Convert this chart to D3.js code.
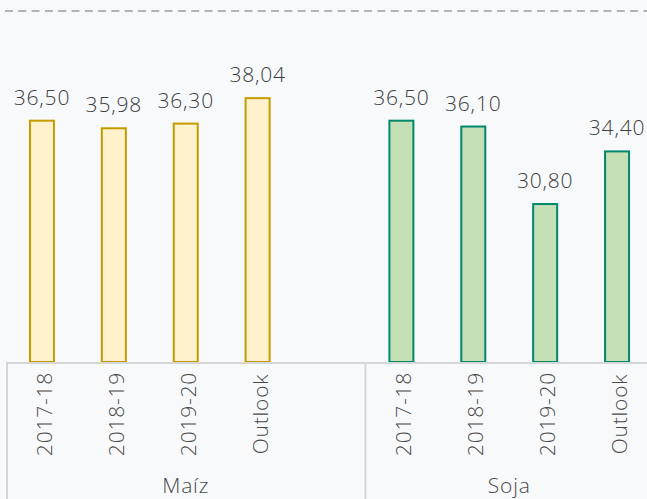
<!DOCTYPE html>
<html>
<head>
<meta charset="utf-8">
<script src="https://cdn.jsdelivr.net/npm/d3@7"></script>
<style>
  html, body { margin: 0; padding: 0; background: #f8f9fb; }
  svg { display: block; font-family: "Open Sans", sans-serif; letter-spacing: 0.8px; }
</style>
</head>
<body>
<svg id="chart" width="647" height="499"></svg>
<script>
// Values
const groups     = ["Maíz", "Soja"];
const seasons    = ["2017-18", "2018-19", "2019-20", "Outlook"];
const maizValues = [36.50, 35.98, 36.30, 38.04];
const sojaValues = [36.50, 36.10, 30.80, 34.40];
const yDomain    = [20, 44];

const W = 647, H = 499;
const baseY = 362;

const svg = d3.select("#chart");

// one slot per bar, plus an empty slot after Maíz
const rows = [];
seasons.forEach((s, i) => rows.push({ key: "Maíz|" + s, group: "Maíz", label: s, value: maizValues[i] }));
rows.push({ key: "gap", group: null, label: "", value: null });
seasons.forEach((s, i) => rows.push({ key: "Soja|" + s, group: "Soja", label: s, value: sojaValues[i] }));

const x = d3.scaleBand()
  .domain(rows.map(d => d.key))
  .range([6, 653])
  .paddingInner(0)
  .paddingOuter(0);

const y = d3.scaleLinear()
  .domain(yDomain)
  .range([baseY, 11]);

const colors = {
  "Maíz": { fill: "#fff2cc", stroke: "#c49a00" },
  "Soja": { fill: "#c5e0b4", stroke: "#00876c" }
};

// dashed top line
svg.append("line")
  .attr("x1", 5).attr("x2", W)
  .attr("y1", y(yDomain[1])).attr("y2", y(yDomain[1]))
  .attr("stroke", "#b3b3b3")
  .attr("stroke-width", 2)
  .attr("stroke-dasharray", "8,5.3");

const barW = 24;
const bars = rows.filter(d => d.value !== null);

// bars
svg.selectAll(".bar")
  .data(bars)
  .enter()
  .append("rect")
    .attr("class", "bar")
    .attr("x", d => x(d.key) + x.bandwidth() / 2 - barW / 2)
    .attr("y", d => y(d.value))
    .attr("width", barW)
    .attr("height", d => baseY - y(d.value))
    .attr("fill", d => colors[d.group].fill)
    .attr("stroke", d => colors[d.group].stroke)
    .attr("stroke-width", 2);

// value labels
const fmt = v => v.toFixed(2).replace(".", ",");
svg.selectAll(".val")
  .data(bars)
  .enter()
  .append("text")
    .attr("class", "val")
    .attr("x", d => x(d.key) + x.bandwidth() / 2)
    .attr("y", d => y(d.value) - 16)
    .attr("text-anchor", "middle")
    .attr("font-size", 21)
    .attr("font-weight", 300)
    .attr("fill", "#404040")
    .text(d => fmt(d.value));

// axis lines
const axisG = svg.append("g").attr("stroke", "#d6d6d6").attr("stroke-width", 2);
axisG.append("line").attr("x1", 7).attr("x2", W).attr("y1", baseY + 1).attr("y2", baseY + 1);
axisG.append("line").attr("x1", 7).attr("x2", 7).attr("y1", baseY).attr("y2", H);
const sepX = x("gap") + x.bandwidth();
axisG.append("line").attr("x1", sepX).attr("x2", sepX).attr("y1", baseY).attr("y2", H);

// rotated season labels
svg.selectAll(".tick-label")
  .data(bars)
  .enter()
  .append("text")
    .attr("class", "tick-label")
    .attr("transform", d => `translate(${x(d.key) + x.bandwidth() / 2 + 10}, 414) rotate(-90)`)
    .attr("text-anchor", "middle")
    .attr("font-size", 21)
    .attr("font-weight", 300)
    .attr("fill", "#4a4a4a")
    .text(d => d.label);

// group labels
groups.forEach(g => {
  const x0 = g === "Maíz" ? x.range()[0] : sepX;
  const x1 = g === "Maíz" ? sepX : x.range()[1];
  svg.append("text")
    .attr("x", (x0 + x1) / 2)
    .attr("y", 493)
    .attr("text-anchor", "middle")
    .attr("font-size", 21)
    .attr("font-weight", 300)
    .attr("fill", "#4a4a4a")
    .text(g);
});
</script>
</body>
</html>
